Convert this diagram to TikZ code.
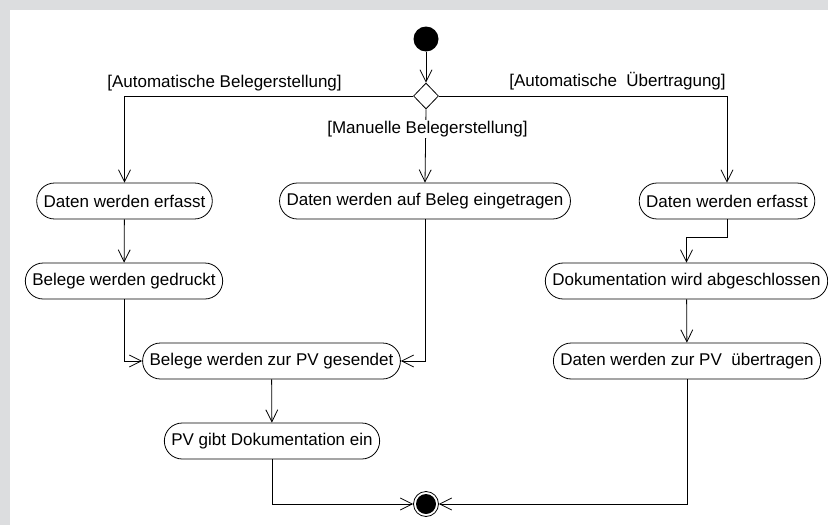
\documentclass[tikz,border=0pt]{standalone}
\usepackage{fontspec}
\setmainfont{Liberation Sans}
\usepackage{tikz}
\usetikzlibrary{arrows.meta}
\usetikzlibrary{shapes.geometric}
\definecolor{Rahmen}{HTML}{DCDDDF}

\begin{document}
\begin{tikzpicture}[x=1pt,y=-1pt,
  font=\fontsize{17}{20}\selectfont,
  aktion/.style={draw,fill=white,rounded corners=17.9pt,minimum height=36pt,inner xsep=7pt,inner ysep=0pt,line width=0.8pt},
  pfeil/.style={-{Straight Barb[length=12pt,width=12pt]},line width=0.8pt}]
% Hintergrund
\fill[Rahmen] (0,0) rectangle (828,525);
\fill[white] (10,10) rectangle (828,525);
\useasboundingbox (0,0) rectangle (828,525);

% Start und Entscheidung
\node[circle,fill=black,minimum size=25pt,inner sep=0pt] (start) at (426,39) {};
\node[diamond,draw,fill=white,line width=0.8pt,minimum width=25pt,minimum height=26pt,inner sep=0pt] (dec) at (426,96) {};

% Aktionen
\node[aktion] (a1) at (124.5,201) {Daten werden erfasst};
\node[aktion] (m1) at (425,201) {Daten werden auf Beleg eingetragen};
\node[aktion] (r1) at (727,201) {Daten werden erfasst};
\node[aktion] (a2) at (124,281) {Belege werden gedruckt};
\node[aktion] (r2) at (686.5,281) {Dokumentation wird abgeschlossen};
\node[aktion] (mid) at (271.5,361) {Belege werden zur PV gesendet};
\node[aktion] (r3) at (687,361) {Daten werden zur PV~ übertragen};
\node[aktion] (pv) at (272,441) {PV gibt Dokumentation ein};

% Ende
\node[circle,draw,fill=white,line width=0.8pt,minimum size=25pt,inner sep=0pt] (ende) at (426,504) {};
\fill (ende.center) circle (10pt);

% Kanten
\draw[pfeil] (start) -- (dec);
\draw[pfeil] (dec.west) -| (a1.north);
\draw[pfeil] (dec.south) -- (m1.north);
\draw[pfeil] (dec.east) -| (r1.north);
\draw[pfeil] (a1) -- (a2);
\draw[pfeil] (a2.south) |- (mid.west);
\draw[pfeil] (m1.south) |- (mid.east);
\draw[pfeil] (mid) -- (pv);
\draw[pfeil] (r1.south) -- ++(0,18) -| (r2.north);
\draw[pfeil] (r2) -- (r3);
\draw[pfeil] (pv.south) |- (ende.west);
\draw[pfeil] (r3.south) |- (ende.east);

% Bedingungen
\node (g1) at (224.5,83) {[Automatische Belegerstellung]};
\node (g2) at (617.5,81) {[Automatische~ Übertragung]};
\node[fill=white,inner sep=1pt] (g3) at (427.5,129) {[Manuelle Belegerstellung]};
\end{tikzpicture}
\end{document}
